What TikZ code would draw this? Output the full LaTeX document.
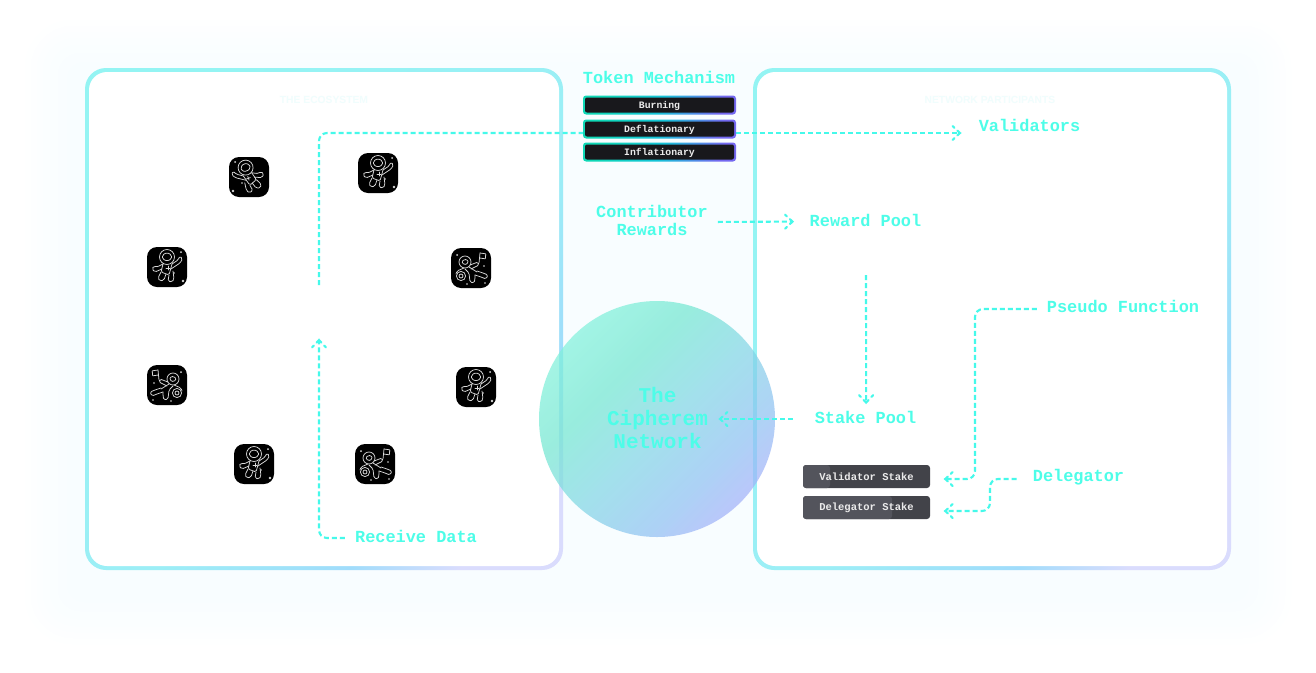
\documentclass[tikz,border=0pt]{standalone}
\usepackage{fontspec}
\setmainfont{Liberation Mono}
\newfontfamily\titlefont{Liberation Sans}
\usetikzlibrary{arrows.meta,backgrounds,calc}
\pgfdeclarearrow{
  name=DashBarb,
  setup code={\pgfarrowssettipend{0pt}\pgfarrowssetlineend{-1pt}\pgfarrowssetbackend{-8pt}\pgfarrowssetvisualbackend{-8pt}},
  drawing code={
    \pgfsetdash{}{0pt}\pgfsetroundcap
    \pgfpathmoveto{\pgfpoint{-2.6pt}{2.4pt}}\pgfpathlineto{\pgfpoint{0pt}{0pt}}\pgfpathlineto{\pgfpoint{-2.6pt}{-2.4pt}}
    \pgfpathmoveto{\pgfpoint{-5.6pt}{5.2pt}}\pgfpathlineto{\pgfpoint{-7.4pt}{7pt}}
    \pgfpathmoveto{\pgfpoint{-5.6pt}{-5.2pt}}\pgfpathlineto{\pgfpoint{-7.4pt}{-7pt}}
    \pgfusepathqstroke
  },
  defaults={}
}
\definecolor{txtc}{HTML}{4DFDE8}
\definecolor{flowc}{HTML}{45F9EA}
\definecolor{faint}{HTML}{F0FDFD}
\definecolor{stakec}{HTML}{424349}
\definecolor{stakel}{HTML}{53545C}
\definecolor{tokenc}{HTML}{18181C}
\definecolor{ringa}{HTML}{94F4F3}
\definecolor{ringb}{HTML}{9CEEF6}
\definecolor{ringc}{HTML}{A0DCFB}
\definecolor{ringd}{HTML}{DADCFD}
\definecolor{orba}{HTML}{7EF1DA}
\definecolor{orbb}{HTML}{70E6D0}
\definecolor{orbc}{HTML}{7FD5E4}
\definecolor{orbd}{HTML}{8DC0F2}
\definecolor{orbe}{HTML}{A0B0F9}
\definecolor{toka}{HTML}{0FD8B6}
\definecolor{tokb}{HTML}{14C4D8}
\definecolor{tokc}{HTML}{7468F0}
\definecolor{glowc}{HTML}{F8FDFF}
\pgfdeclarehorizontalshading{ringshade}{100bp}{color(0bp)=(ringa);color(25bp)=(ringa);color(56bp)=(ringb);color(70bp)=(ringc);color(78bp)=(ringd);color(100bp)=(ringd)}
\pgfdeclarehorizontalshading{orbshade}{100bp}{color(0bp)=(orba);color(25bp)=(orba);color(38bp)=(orbb);color(52bp)=(orbc);color(66bp)=(orbd);color(75bp)=(orbe);color(100bp)=(orbe)}
\pgfdeclarehorizontalshading{tokenshade}{100bp}{color(0bp)=(toka);color(25bp)=(toka);color(50bp)=(tokb);color(75bp)=(tokc);color(100bp)=(tokc)}
\pgfdeclarelayer{glow}\pgfdeclarelayer{under}\pgfdeclarelayer{flows}
\pgfsetlayers{glow,under,flows,main}
\tikzset{
  x=1pt,y=-1pt,
  flowlabel/.style={text=txtc,font=\fontsize{16.9}{18}\selectfont\bfseries,inner sep=0pt,align=center},
  token/.style={text=white!92!black,font=\fontsize{9.8}{11}\selectfont\bfseries,inner sep=0pt},
  stakebox/.style={fill=stakec,rounded corners=3pt,minimum width=127pt,minimum height=23pt,inner sep=0pt},
  staketext/.style={text=white!92!black,font=\fontsize{10.5}{12}\selectfont\bfseries,inner sep=0pt},
  flow/.style={draw=flowc,line width=2.1pt,dash pattern=on 5pt off 3pt,rounded corners=8pt},
  tofrom/.style={-{DashBarb[]}},
  faintlabel/.style={text=faint,font=\titlefont\bfseries\fontsize{10.3}{12}\selectfont,inner sep=0pt},
  icon/.style={line width=.75pt,draw=white!85!black,line cap=round,line join=round,rounded corners=1.5pt},
  iconbase/.style={fill=black,rounded corners=10pt},
  star/.style={fill=white!85!black},
  pics/astrofloat/.style 2 args={code={
    \fill[iconbase] (-20,-20) rectangle (20,20);
    \begin{scope}[icon,rotate=#1,xscale=#2]
      \draw (0,-10) circle (7.5);
      \draw (-4.5,-12) -- (-4.5,-8) -- (0,-6) -- (4.5,-8) -- (4.5,-12) -- (0,-14.5) -- cycle;
      \draw (-4,-3) -- (-6,5) -- (2,8) -- (5,-3);
      \draw (5,-3) -- (11,-7) -- (13,-11) -- (15.5,-8) -- (13,-4) -- (4,2);
      \draw (-4,-3) -- (-10,0) -- (-13,-1) -- (-15,2) -- (-12,5) -- (-5,2);
      \draw (-6,5) -- (-9,11) -- (-7,14) -- (-3,13) -- (-1,7);
      \draw (2,8) -- (1,14) -- (5,15) -- (7,12) -- (6,4);
      \draw (-1,1) -- (3,1) (1,-1) -- (1,3);
    \end{scope}
    \begin{scope}[xscale=#2]
      \fill[star] (14,-15) circle (1) (16,14) circle (1.4) (7,6) circle (.9);
    \end{scope}
  }},
  pics/astroflag/.style={code={
    \fill[iconbase] (-20,-20) rectangle (20,20);
    \begin{scope}[icon,xscale=#1]
      \draw (-6,-6) circle (6);
      \draw (-9.5,-7) -- (-7,-3) -- (-2.5,-5) -- (-4,-9) -- cycle;
      \draw (-2,-1) -- (6,4);
      \draw (-1,-3) -- (7,-6) -- (8,-3) -- (0,1);
      \draw (8,-5) -- (9,-15);
      \draw (9,-15) -- (16,-14) -- (13.5,-11.5) -- (15.5,-9) -- (8.7,-10);
      \draw (6,3) -- (12,5) -- (17,7) -- (15,11) -- (10,9) -- (4,7);
      \draw (4,7) -- (4,11) -- (3,15) -- (-1,14) -- (-2,5) -- (-6,1);
      \draw (-10,8) circle (4.6) (-10,8) circle (2);
      \draw (-7,0) -- (-14,3) -- (-15,6);
    \end{scope}
    \begin{scope}[xscale=#1]
      \fill[star] (-14,-13) circle (1) (13,-2) circle (.9) (-4,16) circle (.9) (14,15) circle (.9);
    \end{scope}
  }},
}
\begin{document}
\begin{tikzpicture}
\useasboundingbox (0,0) rectangle (1316,672);
\begin{pgfonlayer}{glow}
  \fill[white] (0,0) rectangle (1316,672);
  \foreach \lvl/\ins/\tint in {0/0/14,1/6/28,2/12/42,3/18/56,4/25/70,5/33/85,6/42/100}{
    \fill[glowc!\tint!white,rounded corners=48pt-\lvl*5pt] (25+\ins,20+\ins) rectangle (1291-\ins,644-\ins);
  }
\end{pgfonlayer}
\begin{pgfonlayer}{under}
  \shade[shading=ringshade,shading angle=-45,rounded corners=21pt] (85,68) rectangle (563,570);
  \fill[white,rounded corners=18pt] (89,72) rectangle (559,566);
  \shade[shading=ringshade,shading angle=-45,rounded corners=21pt] (753,68) rectangle (1231,570);
  \fill[white,rounded corners=18pt] (757,72) rectangle (1227,566);
  \node[shade,circle,minimum size=236pt,inner sep=0pt,shading=orbshade,shading angle=-45,opacity=.7] (orb) at (657,419) {};
\end{pgfonlayer}

\node[faintlabel] (eco) at (324,99.5) {THE ECOSYSTEM};
\node[faintlabel] (part) at (990,99.5) {NETWORK PARTICIPANTS};

\node[flowlabel] (mech) at (659,77) {Token Mechanism};
\foreach \nm/\tx/\yy in {burn/Burning/105,defl/Deflationary/129,infl/Inflationary/152}{
  \shade[shading=tokenshade,shading angle=-20,rounded corners=3pt] (583,\yy-9.5) rectangle (736,\yy+9.5);
  \fill[tokenc,rounded corners=2pt] (585,\yy-7.5) rectangle (734,\yy+7.5);
  \node[token,minimum width=153pt,minimum height=19pt] (\nm) at (659.5,\yy+1) {\tx};
}

\node[flowlabel] (contrib) at (652,220.5) {Contributor\\Rewards};
\node[flowlabel] (reward) at (865.5,220) {Reward Pool};
\node[flowlabel] (stake) at (865.5,417) {Stake Pool};
\node[flowlabel] (valid) at (1029.5,125) {Validators};
\node[flowlabel] (pseudo) at (1123,306) {Pseudo Function};
\node[flowlabel] (deleg) at (1078.5,477.5) {Delegator};
\node[flowlabel] (recv) at (416,536) {Receive Data};
\node[flowlabel,font=\fontsize{21}{23}\selectfont\bfseries] (nettxt) at (657.5,418) {The\\Cipherem\\Network};

\node[stakebox] (vstake) at (866.5,476.5) {};
\node[stakebox] (dstake) at (866.5,507.5) {};
\fill[stakel,rounded corners=3pt] (803,465) rectangle (830,488);
\fill[stakel,rounded corners=3pt] (803,496) rectangle (892,519);
\node[staketext] (vtext) at (vstake.center) {Validator Stake};
\node[staketext] (dtext) at (dstake.center) {Delegator Stake};

\pic (a1) at (249,177) {astrofloat={20}{-1}};
\pic (a2) at (378,173) {astrofloat={0}{1}};
\pic (a3) at (167,267) {astrofloat={0}{1}};
\pic (a4) at (471,268) {astroflag=1};
\pic (a5) at (167,385) {astroflag=-1};
\pic (a6) at (476,387) {astrofloat={0}{1}};
\pic (a7) at (254,464) {astrofloat={0}{1}};
\pic (a8) at (375,464) {astroflag=1};

\coordinate (dataup) at (319,340);
\coordinate (upstart) at (319,285);
\coordinate (valin) at (960,133);
\coordinate (pseudobend) at (975,400);
\coordinate (delegbend) at (990,495);
\coordinate (poolout) at (866,275);
\begin{pgfonlayer}{flows}
  \draw[flow,tofrom] ([xshift=-10pt,yshift=-2pt]recv.west) -| (dataup);
  \draw[flow] (upstart) |- ([yshift=-3pt]defl.west);
  \draw[flow,tofrom] ([yshift=-3pt]defl.east) -- (valin);
  \draw[flow,tofrom,shorten <=10pt,shorten >=17pt] ([yshift=-1.5pt]contrib.east) -- ([yshift=-1.5pt]reward.west);
  \draw[flow,tofrom] (poolout) -- ([xshift=.6pt,yshift=8pt]stake.north);
  \draw[flow,tofrom,shorten <=22pt,shorten >=63pt] (stake.west |- orb.center) -- (orb.center);
  \draw[flow,tofrom,shorten <=10pt,shorten >=15pt] ([yshift=-3pt]pseudo.west) -| (pseudobend) |- ([yshift=-2.5pt]vstake.east);
  \draw[flow,tofrom,shorten <=16pt,shorten >=15pt] ([yshift=-1.5pt]deleg.west) -| (delegbend) |- ([yshift=-3.5pt]dstake.east);
\end{pgfonlayer}
\end{tikzpicture}
\end{document}
